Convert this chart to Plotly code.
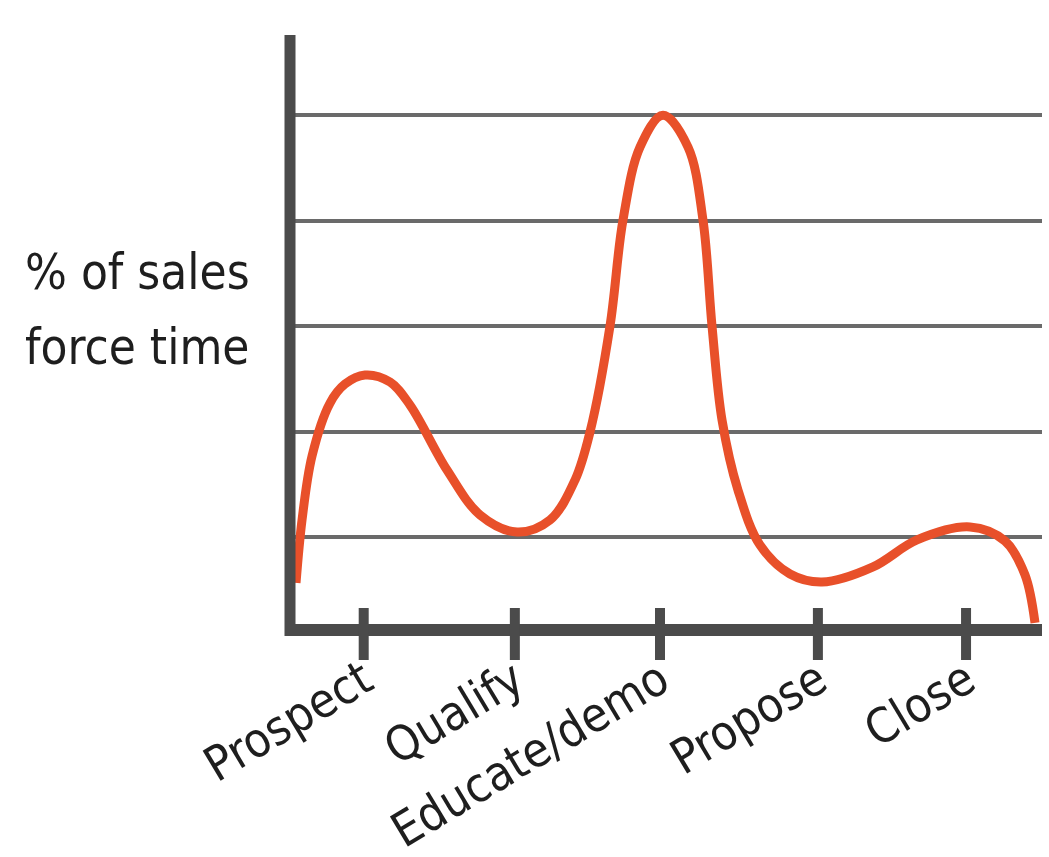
import plotly.graph_objects as go

# ---- data ----
stage_labels = ["Prospect", "Qualify", "Educate/demo", "Propose", "Close"]
stage_pos = [9.8, 29.9, 49.2, 70.2, 89.9]
grid_levels = [10, 20, 30, 40, 50]

curve_x = [0.80, 1.60, 2.93, 5.32, 7.31, 9.97, 13.30, 15.96, 20.88, 25.27,
           30.19, 34.57, 37.90, 39.89, 42.55, 44.28, 46.54, 49.60, 52.93,
           54.92, 56.12, 57.45, 59.57, 62.50, 66.49, 70.74, 77.53, 83.38, 90.43,
           95.08, 97.74, 99.07]
curve_y = [5.64, 11.61, 17.68, 22.70, 24.50, 25.36, 24.69, 22.51, 16.35, 12.09,
           10.47, 11.61, 15.40, 19.95, 30.0, 40.05, 46.97, 50.0, 46.97,
           40.05, 30.0, 21.09, 14.45, 9.24, 6.49, 5.73, 7.16, 9.72, 10.95,
           9.62, 6.40, 1.85]

y_label_lines = ["% of sales", "force time"]

# ---- layout constants (pixels) ----
W, H = 1049, 857
L, R, T, B = 290, 7, 35, 227
plot_w = W - L - R
plot_h = H - T - B
AX_COLOR = "#4b4b4b"
GRID_COLOR = "#6a6a6a"
CURVE_COLOR = "#e8502a"
TEXT_COLOR = "#1e1e1e"
FONT = "Liberation Sans Narrow, DejaVu Sans Condensed, Open Sans, sans-serif"


def py(p):
    # pixel row -> paper y
    return (H - B - p) / plot_h


def px(p):
    # pixel column -> paper x
    return (p - L) / plot_w


fig = go.Figure()
fig.add_trace(go.Scatter(
    x=curve_x, y=curve_y, mode="lines",
    line=dict(color=CURVE_COLOR, width=9, shape="spline", smoothing=1.0),
    cliponaxis=False, hoverinfo="skip", showlegend=False,
))

shapes = []
# y axis line
shapes.append(dict(type="line", xref="paper", yref="paper",
                   x0=0, x1=0, y0=py(636), y1=1,
                   line=dict(color=AX_COLOR, width=11), layer="above"))
# x axis line
shapes.append(dict(type="line", xref="paper", yref="paper",
                   x0=px(285), x1=1, y0=0, y1=0,
                   line=dict(color=AX_COLOR, width=12), layer="above"))
# tick marks crossing the axis
for xv in stage_pos:
    shapes.append(dict(type="line", xref="x", yref="paper",
                       x0=xv, x1=xv, y0=py(608), y1=py(660),
                       line=dict(color=AX_COLOR, width=10), layer="above"))

annotations = []
for line_txt, cy in zip(y_label_lines, [272, 347]):
    annotations.append(dict(text=line_txt, xref="paper", yref="paper",
                            x=px(23), y=py(cy), xanchor="left", yanchor="middle",
                            showarrow=False,
                            font=dict(family=FONT, size=49, color=TEXT_COLOR)))

fig.update_layout(
    width=W, height=H,
    margin=dict(l=L, r=R, t=T, b=B, pad=0, autoexpand=False),
    paper_bgcolor="white", plot_bgcolor="white",
    shapes=shapes,
    xaxis=dict(range=[0, 100], showgrid=False, zeroline=False, showline=False,
               automargin=False,
               tickvals=stage_pos, ticktext=stage_labels, tickangle=-31,
               ticks="", ticklabelstandoff=12,
               tickfont=dict(family=FONT, size=48, color=TEXT_COLOR)),
    yaxis=dict(range=[1.18, 57.6], tickvals=grid_levels, showticklabels=False,
               automargin=False,
               showgrid=True, gridcolor=GRID_COLOR, gridwidth=4,
               zeroline=False, showline=False, ticks=""),
    annotations=annotations,
)

fig.write_html("out.html")
